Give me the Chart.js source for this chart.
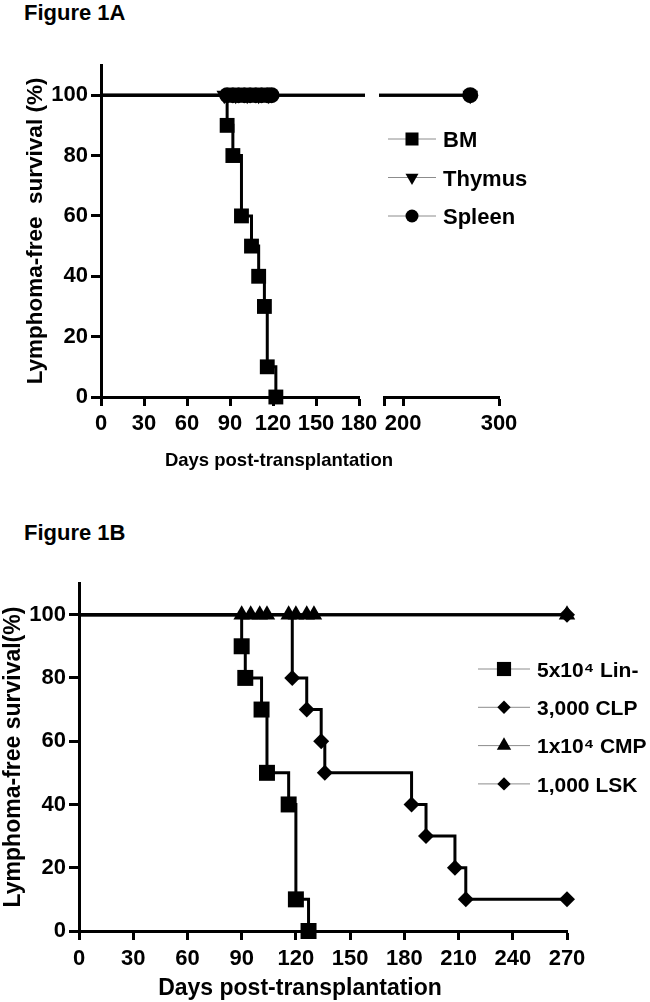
<!DOCTYPE html>
<html>
<head>
<meta charset="utf-8">
<script src="https://cdn.jsdelivr.net/npm/chart.js@4.4.1/dist/chart.umd.min.js"></script>
<style>
  html, body { margin: 0; padding: 0; background: #fff; }
  body { width: 650px; height: 1002px; position: relative; overflow: hidden; font-family: "Liberation Sans", Arial, sans-serif; }
  .fig-label { position: absolute; left: 24px; font-weight: bold; font-size: 22px; line-height: 1; }
  canvas { position: absolute; left: 0; }
</style>
</head>
<body>
<div class="fig-label" style="top:2px">Figure 1A</div>
<canvas id="chartA" width="650" height="500" style="top:0"></canvas>
<div class="fig-label" style="top:522px">Figure 1B</div>
<canvas id="chartB" width="650" height="502" style="top:500px"></canvas>
<script>
// Figure 1A - tissue of origin
const labelsA = ["BM", "Thymus", "Spleen"];
const bmDays = [0, 88, 92, 98, 105, 110, 114, 116, 122];
const bmSurvival = [100, 90, 80, 60, 50, 40, 30, 10, 0];
const thymusDays = [0, 86, 94, 102, 110, 117, 270];
const thymusSurvival = [100, 100, 100, 100, 100, 100, 100];
const spleenDays = [0, 88, 92, 96, 100, 104, 108, 112, 116, 119, 270];
const spleenSurvival = [100, 100, 100, 100, 100, 100, 100, 100, 100, 100, 100];
const xTicksA1 = [0, 30, 60, 90, 120, 150, 180];
const xTicksA2 = [180, 200, 300];

// Figure 1B - sorted populations
const labelsB = ["5x10\u2074 Lin-", "3,000 CLP", "1x10\u2074 CMP", "1,000 LSK"];
const linDays = [0, 90, 92, 101, 104, 116, 120, 127];
const linSurvival = [100, 90, 80, 70, 50, 40, 10, 0];
const clpDays = [0, 270];
const clpSurvival = [100, 100];
const cmpDays = [0, 90, 95, 100, 104, 116, 120, 126, 130, 270];
const cmpSurvival = [100, 100, 100, 100, 100, 100, 100, 100, 100, 100];
const lskDays = [0, 118, 126, 134, 136, 184, 192, 208, 214, 270];
const lskSurvival = [100, 80, 70, 60, 50, 40, 30, 20, 10, 10];
const xTicksB = [0, 30, 60, 90, 120, 150, 180, 210, 240, 270];

const yTicks = [0, 20, 40, 60, 80, 100];

const FONT = '"Liberation Sans", Arial, sans-serif';
const tickFont = { family: FONT, size: 22, weight: "bold" };

function points(days, surv) {
    return days.map((d, i) => ({ x: d, y: surv[i] }));
}

// Kaplan-Meier style step line, no symbol on the day-0 start point
function kmDataset(label, days, surv, marker, extra) {
    return Object.assign({
        label: label,
        data: points(days, surv),
        stepped: "before",
        borderColor: "#000",
        backgroundColor: "#000",
        borderWidth: 3,
        fill: false,
        pointStyle: marker.shape,
        rotation: marker.rotation || 0,
        pointRadius: c => c.dataIndex === 0 ? 0 : marker.radius,
        pointBorderWidth: 0,
        pointBackgroundColor: "#000",
        clip: 12
    }, extra || {});
}

function tickList(values) {
    return s => { s.ticks = values.map(v => ({ value: v })); };
}

function xAxis(min, max, ticks, extra) {
    return Object.assign({
        type: "linear",
        position: "bottom",
        min: min,
        max: max,
        clip: false,
        afterBuildTicks: tickList(ticks),
        afterFit: s => { s.height = 40; },
        grid: { display: true, drawOnChartArea: false, drawTicks: true, tickLength: 9, tickWidth: 3, tickColor: "#000" },
        border: { display: true, width: 3, color: "#000" },
        ticks: { autoSkip: false, maxRotation: 0, padding: 5, color: "#000", font: tickFont }
    }, extra || {});
}

function yAxis(width, title, titleSize, titlePad) {
    return {
        type: "linear",
        min: 0,
        max: 110,
        clip: false,
        afterBuildTicks: tickList(yTicks),
        afterFit: s => { s.width = width; },
        grid: { display: true, drawOnChartArea: false, drawTicks: true, tickLength: 10, tickWidth: 3, tickColor: "#000" },
        border: { display: true, width: 3, color: "#000" },
        ticks: { padding: 3, color: "#000", font: tickFont },
        title: { display: true, text: title, color: "#000", padding: { top: titlePad, bottom: 0 },
                 font: { family: FONT, size: titleSize, weight: "bold" } }
    };
}

// legend + x caption drawn on the canvas
const figureText = {
    id: "figureText",
    afterDraw(chart, args, opts) {
        const ctx = chart.ctx;
        ctx.save();
        const lg = opts.legend;
        lg.items.forEach((it, i) => {
            const y = lg.top + i * lg.step;
            ctx.strokeStyle = "#8c8c8c";
            ctx.lineWidth = 1;
            ctx.beginPath();
            ctx.moveTo(lg.x - lg.half, y);
            ctx.lineTo(lg.x + lg.half, y);
            ctx.stroke();
            ctx.fillStyle = "#000";
            Chart.helpers.drawPoint(ctx, { pointStyle: it.shape, rotation: it.rotation || 0, radius: it.radius, borderWidth: 0 }, lg.x, y);
            ctx.font = "bold " + lg.size + "px " + FONT;
            ctx.textAlign = "left";
            ctx.textBaseline = "middle";
            ctx.fillText(it.label, lg.textX, y + 2);
        });
        const cap = opts.caption;
        ctx.fillStyle = "#000";
        ctx.font = "bold " + cap.size + "px " + FONT;
        ctx.textAlign = "center";
        ctx.textBaseline = "alphabetic";
        ctx.fillText(cap.text, cap.x, cap.y);
        ctx.restore();
    }
};

const commonPlugins = { legend: { display: false }, tooltip: { enabled: false }, title: { display: false } };

// ---------- Figure 1A (broken x axis: 0-180 | 180-300) ----------
const markA = [
    { shape: "rect", radius: 10.5 },
    { shape: "triangle", rotation: 180, radius: 9 },
    { shape: "circle", radius: 8 }
];
const leftClip = { left: 12, top: 12, right: -134, bottom: 12 };
const rightClip = { left: -278, top: 12, right: 12, bottom: 12 };

new Chart(document.getElementById("chartA"), {
    type: "line",
    data: {
        datasets: [
            kmDataset(labelsA[0], bmDays, bmSurvival, markA[0], { xAxisID: "x1", clip: leftClip }),
            kmDataset(labelsA[2], spleenDays, spleenSurvival, markA[2], { xAxisID: "x1", clip: leftClip }),
            kmDataset(labelsA[2], spleenDays, spleenSurvival, markA[2], { xAxisID: "x2", clip: rightClip }),
            kmDataset(labelsA[1], thymusDays, thymusSurvival, markA[1], { xAxisID: "x1", clip: leftClip }),
            kmDataset(labelsA[1], thymusDays, thymusSurvival, markA[1], { xAxisID: "x2", clip: rightClip })
        ]
    },
    options: {
        responsive: false,
        animation: false,
        devicePixelRatio: 1,
        events: [],
        layout: { padding: { top: 65, right: 151, bottom: 63, left: 0 } },
        scales: {
            x1: xAxis(0, 180, xTicksA1, { stack: "days", stackWeight: 258 }),
            xgap: {
                type: "linear", position: "bottom", stack: "days", stackWeight: 25, min: 0, max: 1, clip: false,
                afterFit: s => { s.height = 40; },
                grid: { display: false }, border: { display: false }, ticks: { display: false }
            },
            x2: xAxis(180, 300, xTicksA2, {
                stack: "days", stackWeight: 115,
                ticks: { autoSkip: false, maxRotation: 0, padding: 5, color: "#000", font: tickFont,
                         callback: v => v === 180 ? "" : String(v) }
            }),
            y: yAxis(101, "Lymphoma-free  survival (%)", 22.5, 22)
        },
        plugins: Object.assign({}, commonPlugins, {
            figureText: {
                legend: {
                    x: 412, half: 24, textX: 443, top: 139, step: 38.5, size: 22,
                    items: [
                        { label: labelsA[0], shape: "rect", radius: 9.2 },
                        { label: labelsA[1], shape: "triangle", rotation: 180, radius: 7.5 },
                        { label: labelsA[2], shape: "circle", radius: 6.5 }
                    ]
                },
                caption: { text: "Days post-transplantation", x: 279, y: 466, size: 18.5 }
            }
        })
    },
    plugins: [figureText]
});

// ---------- Figure 1B ----------
const markB = [
    { shape: "rect", radius: 11.3 },
    { shape: "rectRot", radius: 8 },
    { shape: "triangle", radius: 9.5 },
    { shape: "rectRot", radius: 8 }
];

new Chart(document.getElementById("chartB"), {
    type: "line",
    data: {
        datasets: [
            kmDataset(labelsB[0], linDays, linSurvival, markB[0]),
            kmDataset(labelsB[3], lskDays, lskSurvival, markB[3]),
            kmDataset(labelsB[2], cmpDays, cmpSurvival, markB[2]),
            kmDataset(labelsB[1], clpDays, clpSurvival, markB[1])
        ]
    },
    options: {
        responsive: false,
        animation: false,
        devicePixelRatio: 1,
        events: [],
        layout: { padding: { top: 83, right: 83, bottom: 31, left: 0 } },
        scales: {
            x: xAxis(0, 270, xTicksB, { ticks: { autoSkip: false, maxRotation: 0, padding: 6, color: "#000", font: tickFont } }),
            y: yAxis(79, "Lymphoma-free survival(%)", 23, 0)
        },
        plugins: Object.assign({}, commonPlugins, {
            figureText: {
                legend: {
                    x: 504, half: 26, textX: 537, top: 169, step: 38.3, size: 21,
                    items: [
                        { label: labelsB[0], shape: "rect", radius: 10 },
                        { label: labelsB[1], shape: "rectRot", radius: 6.7 },
                        { label: labelsB[2], shape: "triangle", radius: 8.3 },
                        { label: labelsB[3], shape: "rectRot", radius: 6.7 }
                    ]
                },
                caption: { text: "Days post-transplantation", x: 300, y: 495, size: 23 }
            }
        })
    },
    plugins: [figureText]
});
</script>
</body>
</html>
